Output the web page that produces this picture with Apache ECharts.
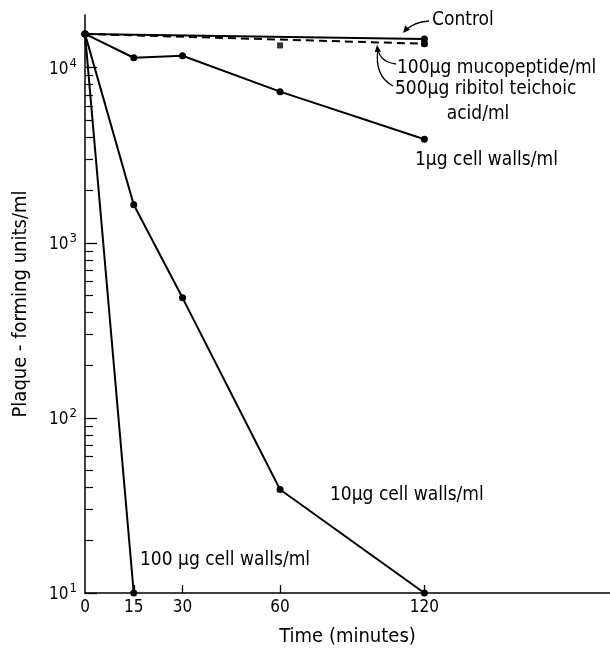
<!DOCTYPE html>
<html>
<head>
<meta charset="utf-8">
<script src="https://cdn.jsdelivr.net/npm/echarts@6/dist/echarts.min.js"></script>
<style>
html,body{margin:0;padding:0;background:#fff;}
#chart{width:610px;height:652px;}
</style>
</head>
<body>
<div id="chart"></div>
<script>
// ---- data (time in minutes, plaque-forming units / ml) ----
const xTickTimes = [0, 15, 30, 60, 120];
const yLabelValues = [10, 100, 1000, 10000];
const yMinorValues = [20,30,40,50,60,70,80,90,200,300,400,500,600,700,800,900,2000,3000,4000,5000,6000,7000,8000,9000];

const controlTimes = [0, 120];
const controlPfu = [15600, 14600];
const mucopeptideTimes = [0, 120];
const mucopeptidePfu = [15600, 13700];
const teichoicTimes = [60, 120];
const teichoicPfu = [13400, 13700];
const walls1Times = [0, 15, 30, 60, 120];
const walls1Pfu = [15600, 11400, 11700, 7300, 3900];
const walls10Times = [0, 15, 30, 60, 120];
const walls10Pfu = [15600, 1650, 485, 39, 10];
const walls100Times = [0, 15];
const walls100Pfu = [15600, 10];

// the original time axis is compressed beyond 60 min
function timeToAxis(t) { return t <= 60 ? t : 60 + (t - 60) * 0.74; }
function pairs(ts, vs) { return ts.map((t, i) => [timeToAxis(t), vs[i]]); }

const FONT = "'DejaVu Sans Condensed','Liberation Sans Narrow','DejaVu Sans',sans-serif";
const xTickPos = xTickTimes.map(timeToAxis);

const chart = echarts.init(document.getElementById('chart'), null, {renderer: 'canvas'});

const lineBase = {
  type: 'line', symbol: 'circle', symbolSize: 7, silent: true, animation: false,
  lineStyle: {color: '#000', width: 2}, itemStyle: {color: '#000'}
};

function arrowHead(x, y, fromX, fromY) {
  const a = Math.atan2(y - fromY, x - fromX);
  const L = 7, W = 3.2;
  const bx = x - L * Math.cos(a), by = y - L * Math.sin(a);
  const px = -Math.sin(a) * W, py = Math.cos(a) * W;
  return {type: 'polygon', silent: true, shape: {points: [[x, y], [bx + px, by + py], [bx - px, by - py]]}, style: {fill: '#000'}};
}
function curve(x1, y1, cx, cy, x2, y2) {
  return {type: 'bezierCurve', silent: true, shape: {x1, y1, x2, y2, cpx1: cx, cpy1: cy}, style: {stroke: '#000', lineWidth: 1.3, fill: null}};
}
function label(text, x, y, align) {
  return {type: 'text', silent: true, x, y, style: {text, font: '19px ' + FONT, fill: '#000', align: align || 'left', verticalAlign: 'middle'}};
}

const option = {
  backgroundColor: '#fff',
  animation: false,
  grid: {left: 85, right: 0, top: 15, bottom: 59, containLabel: false},
  xAxis: {
    type: 'value', min: 0, max: 161.5,
    name: 'Time (minutes)', nameLocation: 'middle', nameGap: 34,
    nameTextStyle: {fontFamily: FONT, fontSize: 20, color: '#000'},
    axisLine: {show: true, lineStyle: {color: '#000', width: 1.5}},
    axisTick: {show: true, inside: true, length: 8, lineStyle: {color: '#000', width: 1.3}, customValues: xTickPos.slice(1)},
    axisLabel: {
      customValues: xTickPos, color: '#000', fontFamily: FONT, fontSize: 17, margin: 6,
      formatter: v => { const i = xTickPos.findIndex(p => Math.abs(p - v) < 1e-6); return i >= 0 ? String(xTickTimes[i]) : ''; }
    },
    splitLine: {show: false}
  },
  yAxis: [{
    type: 'log', logBase: 10, min: 10, max: 20000,
    name: 'Plaque - forming units/ml', nameLocation: 'middle', nameGap: 54, nameRotate: 90,
    nameTextStyle: {fontFamily: FONT, fontSize: 20, color: '#000'},
    axisLine: {show: true, lineStyle: {color: '#000', width: 1.5}},
    axisTick: {show: true, inside: true, length: 12, lineStyle: {color: '#000', width: 1.3}, customValues: yLabelValues},
    axisLabel: {
      customValues: yLabelValues, margin: 8,
      formatter: v => '{b|10}{s|' + Math.round(Math.log10(v)) + '}',
      rich: {
        b: {fontFamily: FONT, fontSize: 17, color: '#000', verticalAlign: 'bottom'},
        s: {fontFamily: FONT, fontSize: 13, color: '#000', verticalAlign: 'top', padding: [0, 0, 8, 1]}
      }
    },
    splitLine: {show: false}
  }, {
    type: 'log', logBase: 10, min: 10, max: 20000, position: 'left',
    axisLine: {show: false},
    axisTick: {show: true, inside: true, length: 8, lineStyle: {color: '#000', width: 1.2}, customValues: yMinorValues},
    axisLabel: {show: false},
    splitLine: {show: false}
  }],
  series: [
    Object.assign({}, lineBase, {name: 'Control', data: pairs(controlTimes, controlPfu)}),
    Object.assign({}, lineBase, {name: '100µg mucopeptide/ml', data: pairs(mucopeptideTimes, mucopeptidePfu), lineStyle: {color: '#000', width: 2, type: [8, 5]}}),
    {type: 'scatter', name: '500µg ribitol teichoic acid/ml', symbol: 'rect', symbolSize: 6, silent: true, itemStyle: {color: '#000'}, data: pairs(teichoicTimes, teichoicPfu)},
    Object.assign({}, lineBase, {name: '1µg cell walls/ml', data: pairs(walls1Times, walls1Pfu)}),
    Object.assign({}, lineBase, {name: '10µg cell walls/ml', data: pairs(walls10Times, walls10Pfu)}),
    Object.assign({}, lineBase, {name: '100µg cell walls/ml', data: pairs(walls100Times, walls100Pfu)})
  ],
  graphic: [
    label('Control', 432, 20),
    curve(429, 21, 413, 22, 405, 31),
    arrowHead(403, 33, 409, 26),
    label('100µg mucopeptide/ml', 397, 68),
    label('500µg ribitol teichoic', 395, 89),
    label('acid/ml', 478, 114, 'center'),
    curve(396, 64, 380, 62, 378, 49),
    curve(393, 86, 374, 76, 378, 49),
    arrowHead(377, 45, 378, 53),
    label('1µg cell walls/ml', 415, 160),
    label('10µg cell walls/ml', 330, 495),
    label('100 µg cell walls/ml', 140, 560)
  ]
};
chart.setOption(option);
</script>
</body>
</html>
